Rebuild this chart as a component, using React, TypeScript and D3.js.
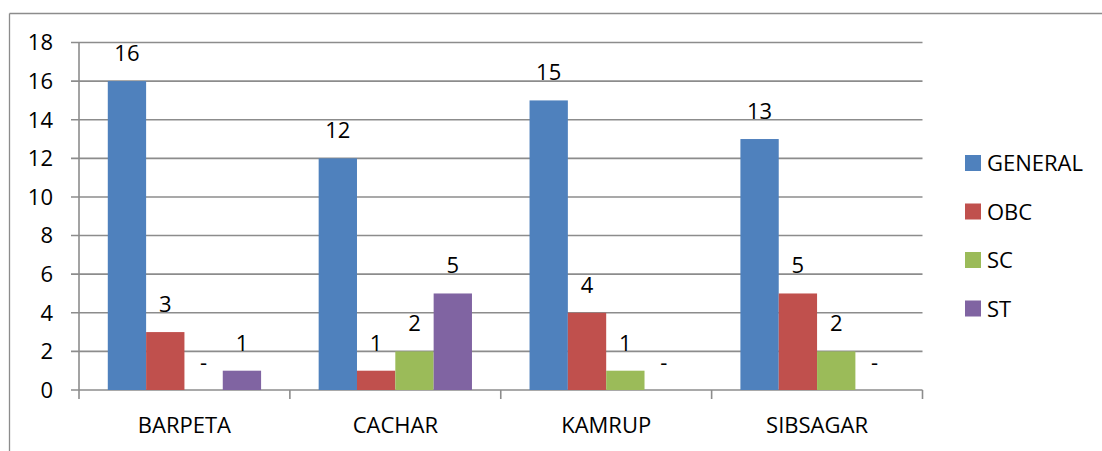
import React from "react";
import * as d3 from "d3";

const categories = ["BARPETA", "CACHAR", "KAMRUP", "SIBSAGAR"];
const seriesNames = ["GENERAL", "OBC", "SC", "ST"];
const generalValues = [16, 12, 15, 13];
const obcValues = [3, 1, 4, 5];
const scValues = [0, 2, 1, 2];
const stValues = [1, 5, 0, 0];
const yTicks = [0, 2, 4, 6, 8, 10, 12, 14, 16, 18];
const colors = ["#4F81BD", "#C0504D", "#9BBB59", "#8064A2"];

const W = 1102;
const H = 451;
const FONT = "'Open Sans', Carlito, Lato, sans-serif";

export default function App() {
  const seriesValues = [generalValues, obcValues, scValues, stValues];
  const plotLeft = 79;
  const plotRight = 922.5;
  const yTop = 42.5;
  const yBottom = 390;

  const x0 = d3.scaleBand<string>().domain(categories).range([plotLeft, plotRight]).paddingInner(0).paddingOuter(0);
  const innerPad = 0.273;
  const x1 = d3
    .scaleBand<string>()
    .domain(seriesNames)
    .range([x0.bandwidth() * innerPad / 2, x0.bandwidth() * (1 - innerPad / 2)])
    .padding(0);
  const y = d3.scaleLinear().domain([0, 18]).range([yBottom, yTop]);

  const gridColor = "#8C8C8C";
  const fs = 22;

  return (
    <svg
      width={W}
      height={H}
      style={{ position: "absolute", left: 0, top: 0, background: "#fff" }}
      fontFamily={FONT}
    >
      {/* outer frame (left and top visible) */}
      <line x1={9.5} y1={13.5} x2={W} y2={13.5} stroke={gridColor} strokeWidth={1.3} />
      <line x1={9.5} y1={13.5} x2={9.5} y2={H} stroke={gridColor} strokeWidth={1.3} />

      {/* gridlines */}
      {yTicks.map((t) => (
        <g key={t}>
          <line x1={plotLeft - 8} x2={plotRight} y1={y(t)} y2={y(t)} stroke={gridColor} strokeWidth={1.6} />
          <text x={53} y={y(t)} dy="0.36em" textAnchor="end" fontSize={fs} fill="#000">
            {t}
          </text>
        </g>
      ))}
      {/* y axis line */}
      <line x1={plotLeft} x2={plotLeft} y1={yTop} y2={yBottom} stroke={gridColor} strokeWidth={1.6} />
      {/* x category tick marks */}
      {[...categories.map((c) => x0(c) as number), plotRight].map((xv, i) => (
        <line key={i} x1={xv} x2={xv} y1={yBottom} y2={yBottom + 9} stroke={gridColor} strokeWidth={1.6} />
      ))}

      {/* bars */}
      {categories.map((c, ci) => (
        <g key={c} transform={`translate(${x0(c)},0)`}>
          {seriesNames.map((s, si) => {
            const v = seriesValues[si][ci];
            const bx = x1(s) as number;
            const bw = x1.bandwidth();
            return (
              <g key={s}>
                {v > 0 && (
                  <rect x={bx} y={y(v)} width={bw} height={y(0) - y(v)} fill={colors[si]} />
                )}
                <text x={bx + bw / 2} y={y(v) - 20} textAnchor="middle" fontSize={fs} fill="#000">
                  {v > 0 ? String(v) : "-"}
                </text>
              </g>
            );
          })}
          <text x={x0.bandwidth() / 2} y={433} textAnchor="middle" fontSize={fs} fill="#000">
            {c}
          </text>
        </g>
      ))}

      {/* legend */}
      {seriesNames.map((s, i) => (
        <g key={s} transform={`translate(965, ${155 + i * 48.5})`}>
          <rect x={0} y={0} width={16} height={16} fill={colors[i]} />
          <text x={22} y={16} fontSize={fs} fill="#000">
            {s}
          </text>
        </g>
      ))}
    </svg>
  );
}
